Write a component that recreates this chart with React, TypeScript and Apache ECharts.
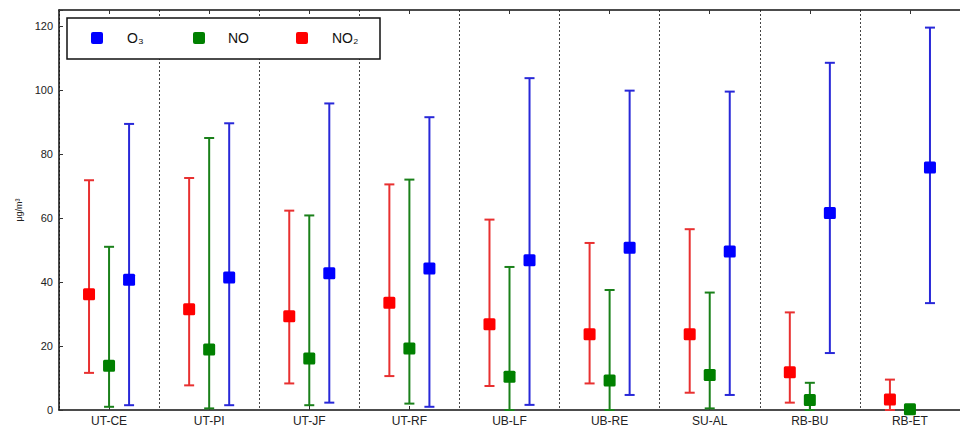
import React, { useEffect, useRef } from "react";
import * as echarts from "echarts";

const categories = ["UT-CE", "UT-PI", "UT-JF", "UT-RF", "UB-LF", "UB-RE", "SU-AL", "RB-BU", "RB-ET"];

const no2Mean = [36.2, 31.5, 29.3, 33.5, 26.8, 23.7, 23.7, 11.8, 3.3];
const no2Low = [11.6, 7.7, 8.3, 10.6, 7.5, 8.3, 5.4, 2.3, 0];
const no2High = [71.8, 72.5, 62.3, 70.5, 59.5, 52.2, 56.5, 30.5, 9.5];

const noMean = [13.8, 18.9, 16.1, 19.2, 10.4, 9.2, 10.9, 3.1, 0.2];
const noLow = [1, 0.5, 1.5, 2, 0, 0, 0.5, 0, 0];
const noHigh = [51, 85, 60.8, 72, 44.7, 37.5, 36.7, 8.5, 0.6];

const o3Mean = [40.7, 41.4, 42.7, 44.2, 46.8, 50.7, 49.5, 61.6, 75.8];
const o3Low = [1.5, 1.5, 2.3, 1, 1.6, 4.7, 4.7, 17.8, 33.4];
const o3High = [89.4, 89.6, 95.8, 91.5, 103.7, 99.8, 99.5, 108.5, 119.5];

const yTicks = [0, 20, 40, 60, 80, 100, 120];

const build = (mean: number[], low: number[], high: number[]) =>
  categories.map((_, i) => [i, mean[i], low[i], high[i]]);

function makeSeries(name: string, color: string, lineColor: string, offset: number, data: number[][]) {
  return {
    type: "custom",
    name,
    itemStyle: { color },
    data,
    encode: { x: 0, y: [1, 2, 3] },
    renderItem: (params: any, api: any) => {
      const idx = api.value(0);
      const band = api.size([1, 0])[0];
      const dx = band * offset;
      const pm = api.coord([idx, api.value(1)]);
      const pl = api.coord([idx, api.value(2)]);
      const ph = api.coord([idx, api.value(3)]);
      const x = pm[0] + dx;
      const cap = 5;
      const s = 12;
      const ls = { stroke: lineColor, lineWidth: 2 };
      return {
        type: "group",
        children: [
          { type: "line", shape: { x1: x, y1: pl[1], x2: x, y2: ph[1] }, style: ls },
          { type: "line", shape: { x1: x - cap, y1: pl[1], x2: x + cap, y2: pl[1] }, style: ls },
          { type: "line", shape: { x1: x - cap, y1: ph[1], x2: x + cap, y2: ph[1] }, style: ls },
          { type: "rect", shape: { x: x - s / 2, y: pm[1] - s / 2, width: s, height: s, r: 1.5 }, style: { fill: color } },
        ],
      };
    },
  };
}

export default function App() {
  const ref = useRef<HTMLDivElement>(null);
  useEffect(() => {
    if (!ref.current) return;
    const chart = echarts.init(ref.current, null, { renderer: "svg" });
    const legendItems = [
      { name: "O₃", color: "#0000ff", x: 97, tx: 127 },
      { name: "NO", color: "#008000", x: 199, tx: 228 },
      { name: "NO₂", color: "#ff0000", x: 302, tx: 332 },
    ];
    chart.setOption({
      animation: false,
      backgroundColor: "#ffffff",
      grid: { left: 59, top: 10, width: 906, height: 400, show: false },
      xAxis: [
        {
          type: "category",
          data: categories,
          boundaryGap: true,
          axisLine: { show: true, lineStyle: { color: "#111", width: 1.5 } },
          axisTick: { show: true, alignWithLabel: true, inside: true, length: 4, lineStyle: { color: "#333" } },
          axisLabel: { color: "#222", fontSize: 12, fontFamily: "Liberation Sans, Arial, sans-serif", margin: 5 },
          splitLine: { show: true, lineStyle: { color: "#444", type: [2, 2], width: 1 } },
        },
        {
          type: "category",
          data: categories,
          position: "top",
          boundaryGap: true,
          axisLine: { show: true, lineStyle: { color: "#111", width: 1.5 } },
          axisTick: { show: true, alignWithLabel: true, inside: true, length: 4, lineStyle: { color: "#333" } },
          axisLabel: { show: false },
          splitLine: { show: false },
        },
      ],
      yAxis: {
        type: "value",
        min: 0,
        max: 125,
        interval: 20,
        name: "μg/m³",
        nameLocation: "middle",
        nameGap: 34,
        nameRotate: 90,
        nameTextStyle: { color: "#222", fontSize: 9, fontFamily: "Liberation Sans, Arial, sans-serif" },
        axisLine: { show: true, lineStyle: { color: "#111", width: 1.5 } },
        axisTick: { show: true, inside: true, length: 4, lineStyle: { color: "#333" } },
        axisLabel: {
          color: "#222",
          fontSize: 11,
          fontFamily: "Liberation Sans, Arial, sans-serif",
          margin: 6,
          formatter: (v: number) => (yTicks.includes(v) ? String(v) : ""),
        },
        splitLine: { show: false },
      },
      series: [
        makeSeries("NO₂", "#ff0000", "#e83030", -0.2, build(no2Mean, no2Low, no2High)),
        makeSeries("NO", "#008000", "#1a801a", 0, build(noMean, noLow, noHigh)),
        makeSeries("O₃", "#0000ff", "#2828d8", 0.2, build(o3Mean, o3Low, o3High)),
      ],
      graphic: [
        {
          type: "rect",
          shape: { x: 67, y: 18, width: 313, height: 41 },
          style: { fill: "#ffffff", stroke: "#111", lineWidth: 1.5 },
          z: 100,
        },
        ...legendItems.flatMap((it) => [
          {
            type: "rect",
            shape: { x: it.x - 6, y: 32, width: 12, height: 12, r: 2 },
            style: { fill: it.color },
            z: 101,
          },
          {
            type: "text",
            x: it.tx,
            y: 38,
            style: {
              text: it.name,
              fill: "#111",
              fontSize: 14,
              fontFamily: "Liberation Sans, Arial, sans-serif",
              verticalAlign: "middle",
            },
            z: 101,
          },
        ]),
      ],
    });
    return () => chart.dispose();
  }, []);
  return <div ref={ref} style={{ width: 960, height: 429, position: "absolute", left: 0, top: 0 }} />;
}
